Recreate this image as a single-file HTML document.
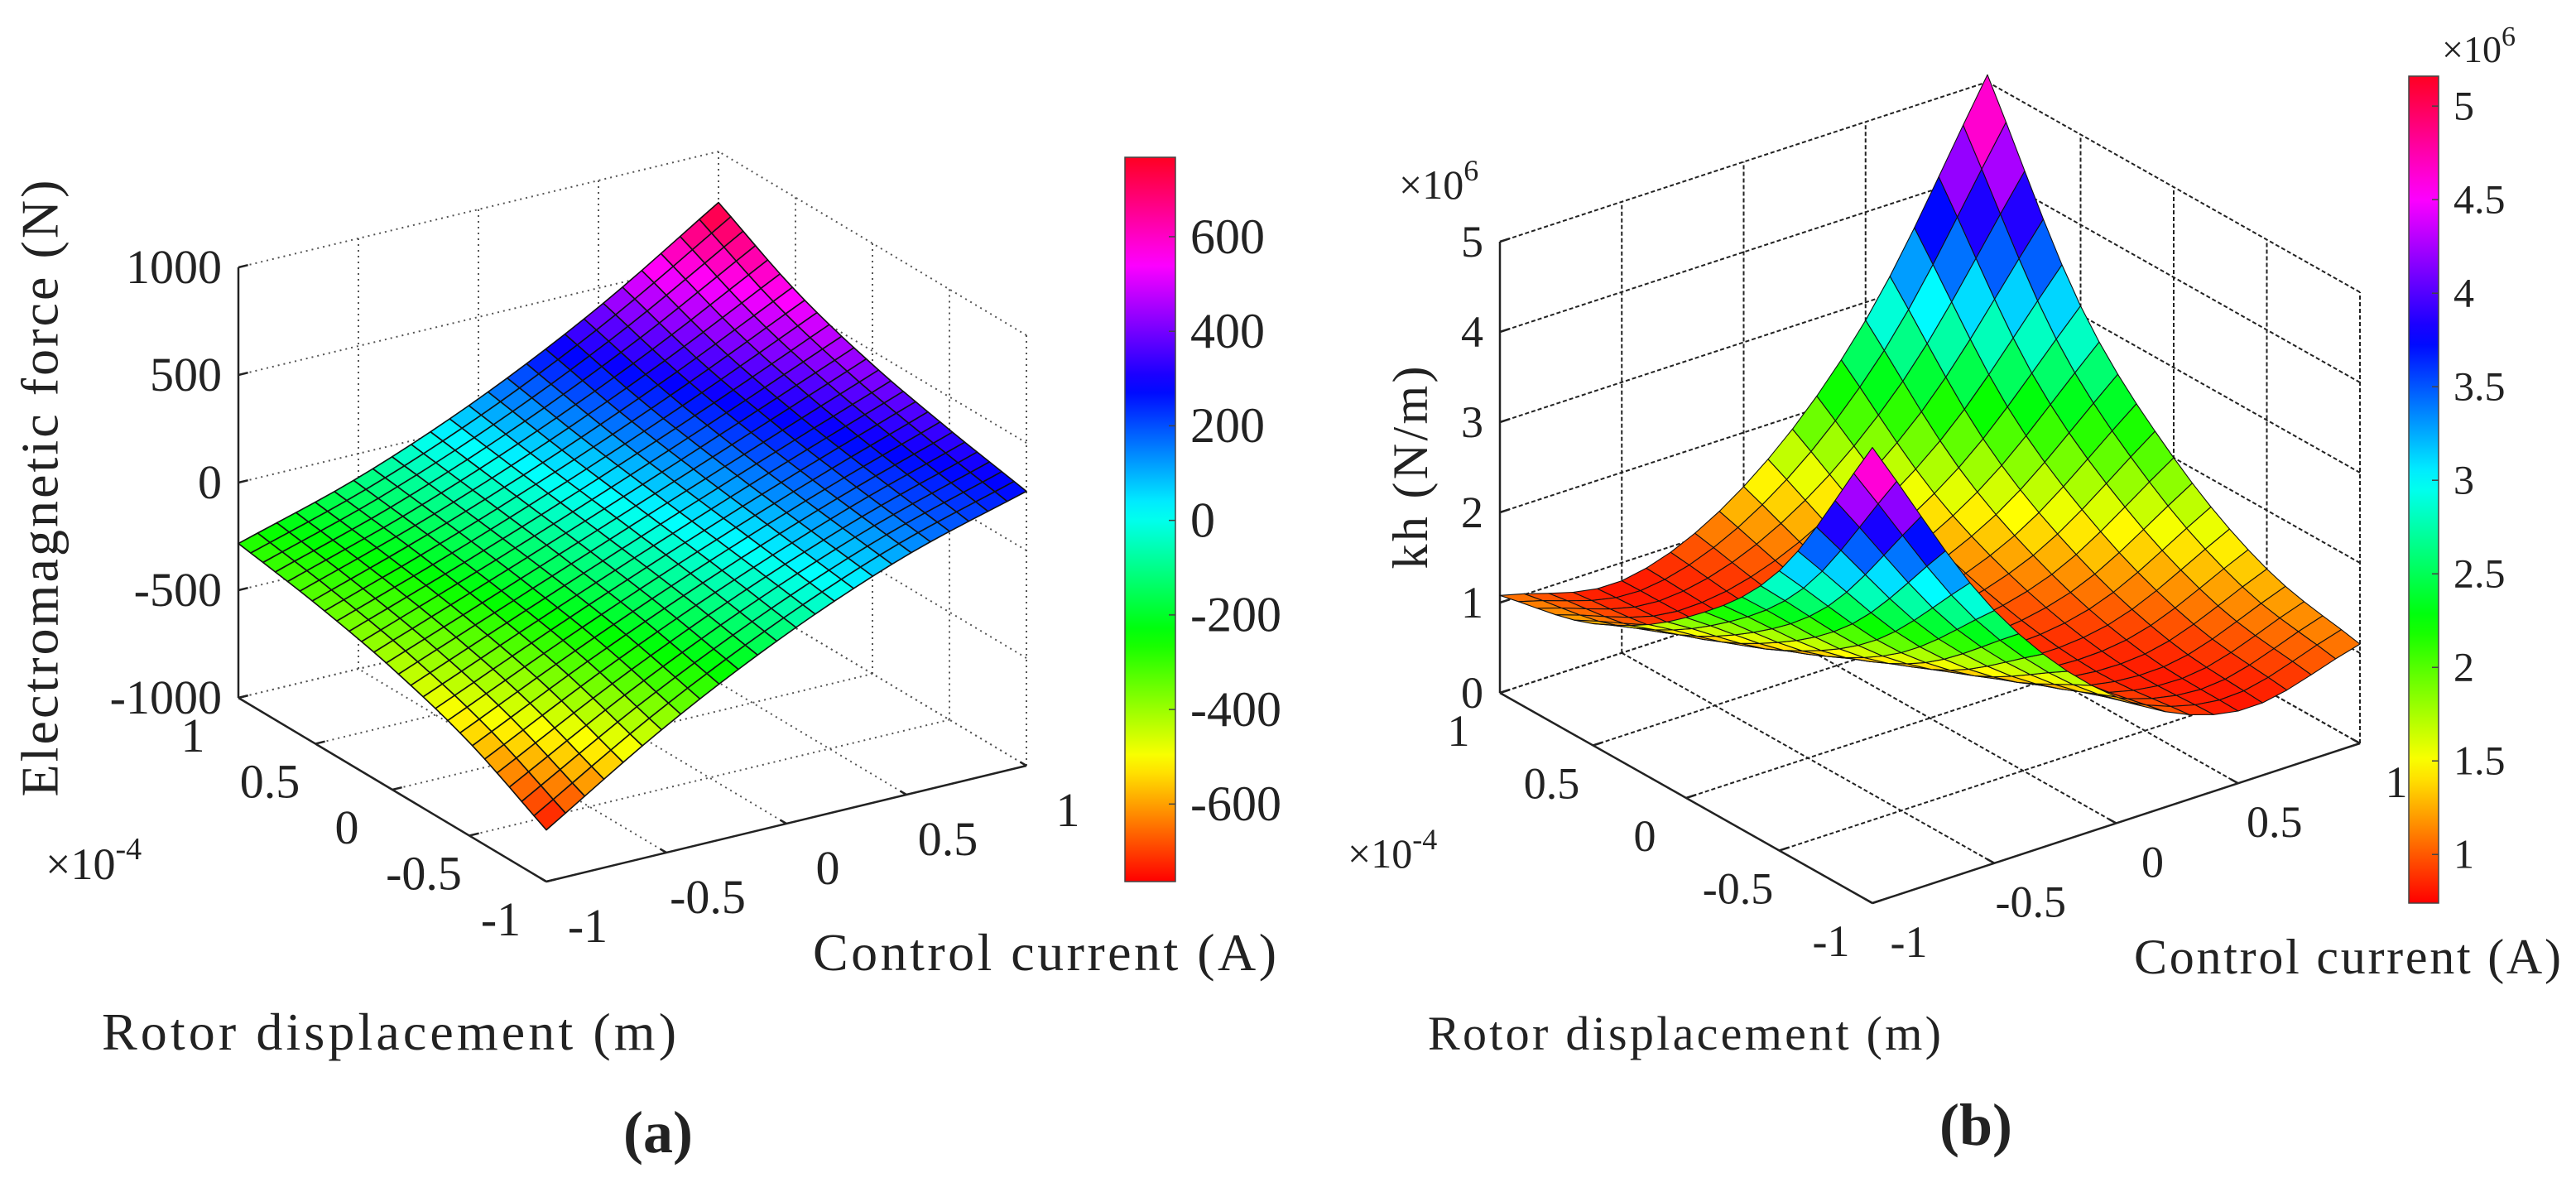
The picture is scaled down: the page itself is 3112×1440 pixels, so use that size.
<!DOCTYPE html>
<html><head><meta charset="utf-8"><style>
html,body{margin:0;padding:0;background:#fff}
svg{display:block}
text{font-family:"Liberation Serif","DejaVu Serif",serif;fill:#222}
</style></head><body>
<svg id="fig" xmlns="http://www.w3.org/2000/svg" width="3112" height="1440" viewBox="0 0 3112 1440" font-family="Liberation Serif, DejaVu Serif, serif">
<rect x="0" y="0" width="3112" height="1440" fill="#fff"/>
<defs id="defs"></defs>
<g id="chartA"></g>
<g id="chartB"></g>
<text x="55" y="590" font-size="64" text-anchor="middle" transform="rotate(-90 55 590)" dominant-baseline="middle" textLength="745">Electromagnetic force (N)</text>
<text x="470" y="1268" font-size="64" text-anchor="middle" textLength="694">Rotor displacement (m)</text>
<text x="1262" y="1172" font-size="64" text-anchor="middle" textLength="560">Control current (A)</text>
<text x="795" y="1392" font-size="72" font-weight="bold" text-anchor="middle">(a)</text>
<text x="55" y="1062" font-size="54">×10<tspan dy="-24" font-size="38">-4</tspan></text>
<text x="1710" y="565" font-size="60" text-anchor="middle" transform="rotate(-90 1710 565)" dominant-baseline="middle" textLength="245">kh (N/m)</text>
<text x="2035" y="1268" font-size="58" text-anchor="middle" textLength="620">Rotor displacement (m)</text>
<text x="2836" y="1176" font-size="60" text-anchor="middle" textLength="516">Control current (A)</text>
<text x="2387" y="1383" font-size="72" font-weight="bold" text-anchor="middle">(b)</text>
<text x="1628" y="1048" font-size="50">×10<tspan dy="-22" font-size="36">-4</tspan></text>
<text x="1690" y="240" font-size="50">×10<tspan dy="-22" font-size="36">6</tspan></text>
<text x="2950" y="75" font-size="46">×10<tspan dy="-20" font-size="34">6</tspan></text>
</svg>
<script>
const currentVals = [-1, -0.5, 0, 0.5, 1];
const dispVals = [-1, -0.5, 0, 0.5, 1];
const currentTicks = ["-1", "-0.5", "0", "0.5", "1"];
const dispTicks = ["-1", "-0.5", "0", "0.5", "1"];
const forceTicks = [-1000, -500, 0, 500, 1000];
const forceTickLabels = ["-1000", "-500", "0", "500", "1000"];
const forceCbTicks = [-600, -400, -200, 0, 200, 400, 600];
const forceCbLabels = ["-600", "-400", "-200", "0", "200", "400", "600"];
// rows: displacement -1..1, columns: current -1..1 (N)
const forceRowM1 = [-760, -411, -120, 111, 275];
const forceRowM05 = [-567, -297, -55, 160, 348];
const forceRow0 = [-437, -219, 0, 219, 437];
const forceRowP05 = [-348, -160, 55, 297, 567];
const forceRowP1 = [-283, -111, 120, 411, 763];
const khTicks = [0, 1, 2, 3, 4, 5];
const khTickLabels = ["0", "1", "2", "3", "4", "5"];
const khCbTicks = [1, 1.5, 2, 2.5, 3, 3.5, 4, 4.5, 5];
const khCbLabels = ["1", "1.5", "2", "2.5", "3", "3.5", "4", "4.5", "5"];
// rows: displacement -1..1, columns: current -1..1 (x10^6 N/m)
const khRowM1 = [5.05, 2.8, 1.4, 0.8, 1.1];
const khRowM05 = [3.1, 1.75, 1.0, 0.85, 1.35];
const khRow0 = [2.0, 1.15, 0.9, 1.15, 2.0];
const khRowP05 = [1.35, 0.85, 1.0, 1.75, 3.1];
const khRowP1 = [1.08, 0.8, 1.4, 2.8, 5.08];

const NS = "http://www.w3.org/2000/svg";
function mk(tag, attrs, parent) {
  const e = document.createElementNS(NS, tag);
  for (const k in attrs) e.setAttribute(k, attrs[k]);
  parent.appendChild(e);
  return e;
}
function hsvColor(t) {
  t = Math.max(0, Math.min(1, t));
  return "hsl(" + (t * 352).toFixed(1) + ",100%,50%)";
}
function cr(p0, p1, p2, p3, t) {
  return 0.5 * ((2 * p1) + (-p0 + p2) * t + (2 * p0 - 5 * p1 + 4 * p2 - p3) * t * t + (-p0 + 3 * p1 - 3 * p2 + p3) * t * t * t);
}
function interp1(arr, u) {
  const n = arr.length;
  let i = Math.min(n - 2, Math.floor(u));
  const t = u - i;
  const g = k => k < 0 ? 2 * arr[0] - arr[1] : (k >= n ? 2 * arr[n - 1] - arr[n - 2] : arr[k]);
  return cr(g(i - 1), g(i), g(i + 1), g(i + 2), t);
}
function makeSampler(rows, cv, dv) {
  return function (c, d) {
    const uc = (c - cv[0]) / (cv[cv.length - 1] - cv[0]) * (cv.length - 1);
    const ud = (d - dv[0]) / (dv[dv.length - 1] - dv[0]) * (dv.length - 1);
    const col = rows.map(r => interp1(r, uc));
    return interp1(col, ud);
  };
}
function drawChart(g, cfg) {
  const P = (c, d, z) => [
    cfg.ox + (c + 1) / 2 * cfg.cv[0] + (d + 1) / 2 * cfg.dv[0],
    cfg.oy + (c + 1) / 2 * cfg.cv[1] + (d + 1) / 2 * cfg.dv[1] - (z - cfg.zmin) * cfg.zs];
  const line = (a, b, style, name) => {
    const l = mk("line", { x1: a[0], y1: a[1], x2: b[0], y2: b[1], stroke: style.stroke, "stroke-width": style.w, "stroke-dasharray": style.dash || "none" }, g);
    
    
  };
  const gs = { stroke: cfg.gridColor, w: cfg.gridW, dash: cfg.gridDash };
  const zl = cfg.zmin, zh = cfg.zmax;
  cfg.zTicks.forEach(z => {
    line(P(-1, 1, z), P(1, 1, z), gs, 'grid-line-z');
    line(P(1, -1, z), P(1, 1, z), gs, 'grid-line-z');
  });
  cfg.cVals.forEach(c => {
    line(P(c, 1, zl), P(c, 1, zh), gs, 'grid-line-current');
    line(P(c, -1, zl), P(c, 1, zl), gs, 'grid-line-current');
  });
  cfg.dVals.forEach(d => {
    line(P(1, d, zl), P(1, d, zh), gs, 'grid-line-displacement');
    line(P(-1, d, zl), P(1, d, zl), gs, 'grid-line-displacement');
  });
  const as = { stroke: "#222", w: 2.5 };
  line(P(-1, 1, zl), P(-1, 1, zh), as, 'z-axis-line');
  line(P(-1, 1, zl), P(-1, -1, zl), as, 'displacement-axis-line');
  line(P(-1, -1, zl), P(1, -1, zl), as, 'current-axis-line');
  cfg.zTicks.forEach((z, i) => {
    const p = P(-1, 1, z);
    line(p, [p[0] + cfg.cv[0] * 0.02, p[1] + cfg.cv[1] * 0.02], as, 'z-tick');
    const t = mk("text", { x: p[0] - 20, y: p[1] + cfg.fs * 0.33, "font-size": cfg.fs, "text-anchor": "end" }, g);
    t.textContent = cfg.zLabels[i];
    
    
  });
  cfg.dVals.forEach((d, i) => {
    const p = P(-1, d, zl);
    line(p, [p[0] + cfg.cv[0] * 0.02, p[1] + cfg.cv[1] * 0.02], as, 'displacement-tick');
    const t = mk("text", { x: p[0] + cfg.dOff[0], y: p[1] + cfg.dOff[1] + cfg.fs * 0.33, "font-size": cfg.fs, "text-anchor": "middle" }, g);
    t.textContent = dispTicks[i];
    
    
  });
  cfg.cVals.forEach((c, i) => {
    const p = P(c, -1, zl);
    line(p, [p[0] + cfg.dv[0] * 0.02, p[1] + cfg.dv[1] * 0.02], as, 'current-tick');
    const t = mk("text", { x: p[0] + cfg.cOff[0], y: p[1] + cfg.cOff[1] + cfg.fs * 0.33, "font-size": cfg.fs, "text-anchor": "middle" }, g);
    t.textContent = currentTicks[i];
    
    
  });
  const f = makeSampler(cfg.rows, cfg.cVals, cfg.dVals);
  const N = cfg.n;
  const Z = [];
  for (let j = 0; j <= N; j++) {
    Z.push([]);
    for (let i = 0; i <= N; i++) Z[j].push(f(-1 + 2 * i / N, -1 + 2 * j / N));
  }
  const cells = [];
  for (let j = 0; j < N; j++) for (let i = 0; i < N; i++) {
    const c0 = -1 + 2 * i / N, c1 = -1 + 2 * (i + 1) / N, d0 = -1 + 2 * j / N, d1 = -1 + 2 * (j + 1) / N;
    const cm = (c0 + c1) / 2, dm = (d0 + d1) / 2;
    const depth = -(cm * cfg.cv[1] + dm * cfg.dv[1]);
    const zavg = (Z[j][i] + Z[j][i + 1] + Z[j + 1][i + 1] + Z[j + 1][i]) / 4;
    cells.push({ depth, zavg, pts: [P(c0, d0, Z[j][i]), P(c1, d0, Z[j][i + 1]), P(c1, d1, Z[j + 1][i + 1]), P(c0, d1, Z[j + 1][i])] });
  }
  cells.sort((a, b) => b.depth - a.depth);
  const sg = mk("g", {}, g);
  
  
  cells.forEach(cl => {
    const poly = mk("polygon", {
      points: cl.pts.map(p => p[0].toFixed(1) + "," + p[1].toFixed(1)).join(" "),
      fill: hsvColor((cl.zavg - cfg.cmin) / (cfg.cmax - cfg.cmin)),
      stroke: "#111", "stroke-width": cfg.meshW, "stroke-linejoin": "round"
    }, sg);
    
    
  });
  const defs = document.getElementById("defs");
  const gr = mk("linearGradient", { id: cfg.id + "grad", x1: 0, y1: 1, x2: 0, y2: 0 }, defs);
  for (let k = 0; k <= 40; k++) mk("stop", { offset: k / 40, "stop-color": hsvColor(k / 40) }, gr);
  const cb = mk("rect", { x: cfg.cb[0], y: cfg.cb[1], width: cfg.cb[2], height: cfg.cb[3], fill: "url(#" + cfg.id + "grad)", stroke: "#444", "stroke-width": 1.5 }, g);
  
  
  const cy = v => cfg.cb[1] + cfg.cb[3] - (v - cfg.cmin) / (cfg.cmax - cfg.cmin) * cfg.cb[3];
  cfg.cbTicks.forEach((v, i) => {
    const y = cy(v);
    line([cfg.cb[0] + cfg.cb[2] - 8, y], [cfg.cb[0] + cfg.cb[2], y], { stroke: "#444", w: 1.5 }, 'colorbar-tick');
    const t = mk("text", { x: cfg.cb[0] + cfg.cb[2] + 18, y: y + cfg.cbfs * 0.33, "font-size": cfg.cbfs }, g);
    t.textContent = cfg.cbLabels[i];
    
    
  });
}
drawChart(document.getElementById("chartA"), {
  id: "a", ox: 660, oy: 1065, cv: [580, -140], dv: [-372, -222], zmin: -1000, zmax: 1000, zs: 0.26,
  zTicks: forceTicks, zLabels: forceTickLabels, cVals: currentVals, dVals: dispVals,
  rows: [forceRowM1, forceRowM05, forceRow0, forceRowP05, forceRowP1],
  n: 25, cmin: -764, cmax: 768, meshW: 1.6, fs: 58, cbfs: 60,
  gridColor: "#555", gridW: 2, gridDash: "2 5",
  dOff: [-55, 46], cOff: [50, 54],
  cb: [1359, 190, 61, 875], cbTicks: forceCbTicks, cbLabels: forceCbLabels
});
drawChart(document.getElementById("chartB"), {
  id: "b", ox: 2262, oy: 1091, cv: [589, -193], dv: [-450, -254], zmin: 0, zmax: 5, zs: 109,
  zTicks: khTicks, zLabels: khTickLabels, cVals: currentVals, dVals: dispVals,
  rows: [khRowM1, khRowM05, khRow0, khRowP05, khRowP1],
  n: 20, cmin: 0.74, cmax: 5.16, meshW: 1.1, fs: 54, cbfs: 50,
  gridColor: "#222", gridW: 2, gridDash: "5 3",
  dOff: [-50, 46], cOff: [44, 47],
  cb: [2910, 92, 36, 999], cbTicks: khCbTicks, cbLabels: khCbLabels
});
</script>
</body></html>
